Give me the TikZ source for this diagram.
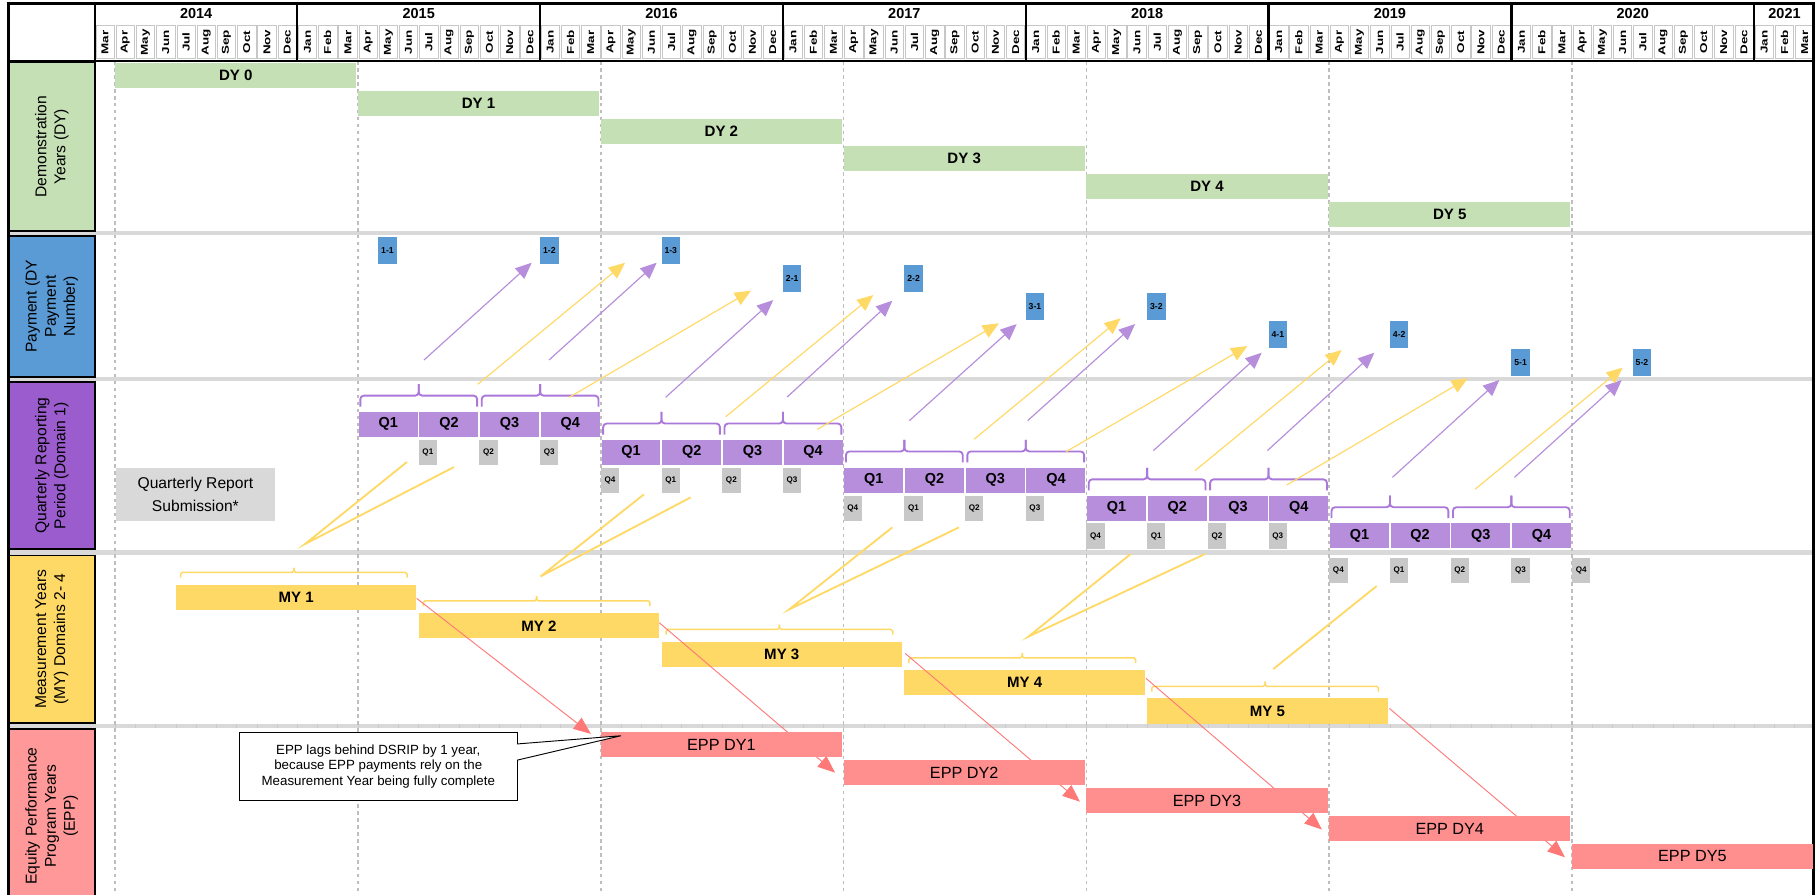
\documentclass[tikz,border=0pt]{standalone}
\usepackage{fontspec}
\usepackage{graphicx}
\setmainfont{Liberation Sans}
\usetikzlibrary{arrows.meta,calc}
\definecolor{dygreen}{RGB}{197,224,180}
\definecolor{payblue}{RGB}{91,155,213}
\definecolor{qpurple}{RGB}{155,92,205}
\definecolor{qbar}{RGB}{182,142,220}
\definecolor{qline}{RGB}{170,120,218}
\definecolor{myyellow}{RGB}{255,217,102}
\definecolor{eppink}{RGB}{255,153,153}
\definecolor{eppbar}{RGB}{255,143,143}
\definecolor{eparrow}{RGB}{255,120,120}
\definecolor{sepgray}{RGB}{217,217,217}
\definecolor{gridgray}{RGB}{190,190,190}
\definecolor{rptgray}{RGB}{200,200,200}
\newcommand\mymonth[1]{\ifcase#1 Jan\or Feb\or Mar\or Apr\or May\or Jun\or Jul\or Aug\or Sep\or Oct\or Nov\or Dec\fi}
\pgfmathdeclarefunction{mx}{1}{\pgfmathparse{47.1+17.48*#1}}
\begin{document}
\begin{tikzpicture}[x=1pt,y=-1pt,
  every node/.style={inner sep=0pt,outer sep=0pt},
  barnode/.style={anchor=north west,minimum height=21.6pt,font=\fontsize{13}{13}\selectfont\bfseries},
  dybar/.style={barnode,fill=dygreen},
  qbarn/.style={barnode,fill=qbar,font=\fontsize{12.5}{12.5}\selectfont\bfseries},
  mybar/.style={barnode,fill=myyellow,minimum height=22pt},
  eppbarn/.style={barnode,fill=eppbar,font=\fontsize{14}{14}\selectfont},
  paybox/.style={anchor=north west,fill=payblue,minimum width=16pt,minimum height=23pt,font=\fontsize{7.5}{7.5}\selectfont\bfseries},
  rptbox/.style={anchor=north west,fill=rptgray,minimum width=15.8pt,minimum height=22pt,font=\fontsize{7}{7}\selectfont\bfseries},
  lbl/.style={draw=black,line width=1.5pt,rotate=90,align=center,minimum height=74.5pt,font=\fontsize{13.5}{16.5}\selectfont},
  qbrace/.style={draw=qline,line width=1.6pt,rounded corners=3pt},
  mybrace/.style={draw=myyellow,line width=1.3pt,rounded corners=1.5pt},
  parrow/.style={draw=qbar,line width=1pt,-{Triangle[length=14pt,width=12pt]}},
  yarrow/.style={draw=myyellow,line width=1pt,-{Triangle[length=14pt,width=12pt]}},
  vline/.style={draw=myyellow,line width=1.6pt},
  rarrow/.style={draw=eparrow,line width=0.8pt,-{Triangle[length=15pt,width=12pt]}},
  gridln/.style={draw=gridgray,line width=1.3pt,dash pattern=on 3pt off 3pt},
  sepln/.style={draw=sepgray,line width=3.5pt}]
\useasboundingbox (0,0) rectangle (1568,773);
\fill[white] (0,0) rectangle (1568,773);
% separators
\foreach \yy in {201.6,327.4,477.3,627.5} \draw[sepln] (7,\yy) -- (1566,\yy);
\foreach \m in {3,...,86} \draw[draw=black!20,line width=0.6pt] ({mx(\m)},625.8) -- ({mx(\m)},629.2);
% grid lines
\foreach \m in {3,15,27,39,51,63,75} \draw[gridln] ({mx(\m)},53) -- ({mx(\m)},773);
% header months
\foreach \m in {2,...,86} {
  \pgfmathsetmacro\xa{mx(\m)}
  \pgfmathsetmacro\xb{mx(\m+1)}
  \pgfmathtruncatemacro\mm{mod(\m,12)}
  \draw[draw=black!22,line width=0.6pt] (\xa+0.8,21.5) rectangle (\xb-0.8,50.5);
  \node[rotate=90,font=\fontsize{8.6}{8.6}\selectfont\bfseries] (mon\m) at ({(\xa+\xb)/2},36.5) {\scalebox{1.35}[1]{\mymonth{\mm}}};
}
\foreach \yr [count=\i from 0] in {2014,...,2021} {
  \pgfmathsetmacro\xa{mx(max(2,12*\i))}
  \pgfmathsetmacro\xb{mx(min(87,12*\i+12))}
  \node[font=\fontsize{12.5}{12.5}\selectfont\bfseries] (yr\yr) at ({(\xa+\xb)/2},12) {\yr};
}
\draw[line width=2pt] (82,3) -- (82,52);
\foreach \m in {12,24,...,84} \draw[line width=2pt] ({mx(\m)},3) -- ({mx(\m)},52);
\draw[line width=3pt] (5.7,3) -- (1567.7,3);
\draw[line width=2pt] (7,52.5) -- (1566,52.5);
\draw[line width=2.5pt] (7,2) -- (7,775);
\draw[line width=2.5pt] (1566.5,2) -- (1566.5,775);
% row labels
\node[lbl,fill=dygreen,minimum width=145.5pt] (lDY) at (44.75,126.75) {Demonstration\\Years (DY)};
\node[lbl,fill=payblue,minimum width=121.5pt] (lPay) at (44.75,264.75) {Payment (DY\\Payment\\Number)};
\node[lbl,fill=qpurple,minimum width=144.5pt] (lQ) at (44.75,402.25) {Quarterly Reporting\\Period (Domain 1)};
\node[lbl,fill=myyellow,minimum width=144.5pt] (lMY) at (44.75,552.25) {Measurement Years\\(MY) Domains 2- 4};
\node[lbl,fill=eppink,minimum width=150pt] (lEPP) at (44.75,705) {Equity Performance\\Program Years\\(EPP)};
% DY bars
\foreach \k in {0,...,5} {
  \pgfmathsetmacro\xa{mx(3+12*\k)}
  \pgfmathsetmacro\w{mx(15+12*\k)-1.5-\xa}
  \pgfmathsetmacro\yt{54.7+23.9*\k}
  \node[dybar,minimum width=\w pt] (dy\k) at (\xa,\yt) {DY \k};
}
% payment boxes
\foreach \m/\r/\t [count=\i] in {16/0/1-1,24/0/1-2,30/0/1-3,36/1/2-1,42/1/2-2,48/2/3-1,54/2/3-2,60/3/4-1,66/3/4-2,72/4/5-1,78/4/5-2} {
  \pgfmathsetmacro\yt{204.8+24.2*\r}
  \node[paybox] (pay\i) at ({mx(\m)},\yt) {\t};
}
% quarter bars
\foreach \k in {0,...,4} {
  \pgfmathsetmacro\yt{355.8+24.1*\k}
  \foreach \q in {0,...,3} {
    \pgfmathsetmacro\xa{mx(15+12*\k+3*\q)+0.6}
    \pgfmathsetmacro\w{mx(18+12*\k+3*\q)-0.9-\xa}
    \pgfmathtruncatemacro\qq{\q+1}
    \node[qbarn,minimum width=\w pt] (q\k-\qq) at (\xa,\yt) {Q\qq};
  }
  \foreach \h in {0,1} {
    \pgfmathsetmacro\xa{mx(15+12*\k+6*\h)+2}
    \pgfmathsetmacro\xb{mx(21+12*\k+6*\h)-2}
    \pgfmathsetmacro\xm{mx(18+12*\k+6*\h)}
    \draw[qbrace] (\xa,\yt-4.5) -- (\xa,\yt-14) -- (\xm,\yt-14) -- (\xm,\yt-24);
    \draw[qbrace] (\xb,\yt-4.5) -- (\xb,\yt-14) -- (\xm,\yt-14) -- (\xm,\yt-24);
  }
}
% report boxes
\foreach \m/\r/\lab [count=\i] in {18/1/Q1,21/1/Q2,24/1/Q3,27/2/Q4,30/2/Q1,33/2/Q2,36/2/Q3,39/3/Q4,42/3/Q1,45/3/Q2,48/3/Q3,51/4/Q4,54/4/Q1,57/4/Q2,60/4/Q3,63/5/Q4,66/5/Q1,69/5/Q2,72/5/Q3,75/5/Q4} {
  \pgfmathsetmacro\yt{\r<5 ? 355.8+24.1*\r : 481.8}
  \node[rptbox] (rpt\i) at ({mx(\m)},\yt) {\lab};
}
\node[fill=sepgray,anchor=north west,minimum width=137.6pt,minimum height=45.8pt,align=center,font=\fontsize{13.5}{20}\selectfont] (qrs) at (100,404) {Quarterly Report\\Submission*};
% MY bars
\foreach \k in {0,...,4} {
  \pgfmathsetmacro\xa{mx(6+12*\k)}
  \pgfmathsetmacro\w{mx(18+12*\k)-2-\xa}
  \pgfmathsetmacro\yt{505+24.6*\k}
  \pgfmathtruncatemacro\kk{\k+1}
  \node[mybar,minimum width=\w pt] (my\kk) at (\xa,\yt) {MY \kk};
  \pgfmathsetmacro\xa{mx(6+12*\k)+4}
  \pgfmathsetmacro\xb{mx(18+12*\k)-10}
  \pgfmathsetmacro\xm{(\xa+\xb)/2}
  \draw[mybrace] (\xa,\yt-6) -- (\xa,\yt-10.5) -- (\xm,\yt-10.5) -- (\xm,\yt-14.5);
  \draw[mybrace] (\xb,\yt-6) -- (\xb,\yt-10.5) -- (\xm,\yt-10.5) -- (\xm,\yt-14.5);
}
% purple arrows
\foreach \sx/\sy/\tx/\ty [count=\i] in {366.3/311/459.3/227,474.3/311/567.3/227,575.1/343.2/668/259.2,680/343/770.9/259.8,785.6/363.4/878.3/280,887.8/363.4/980.6/280,996.4/389.3/1090/304.7,1094.9/389.3/1187.3/304.7,1202.9/412.4/1295.3/328.3,1308.3/412.4/1401/328.3} {
  \coordinate (ps\i) at (\sx,\sy);
  \coordinate (pt\i) at (\tx,\ty);
  \draw[parrow] (ps\i) -- (pt\i);
}
% yellow arrows
\foreach \sx/\sy/\tx/\ty [count=\i] in {412.7/332/540/227,491.8/343.2/648.8/251.1,627/360/754.5/254.9,706/371/863/279.3,841.5/379.5/968.2/275,921/390.2/1077.6/299,1032.4/406.6/1159.1/302.4,1111.6/419/1268/326.8,1274.3/422.7/1401.9/317.6} {
  \coordinate (ys\i) at (\sx,\sy);
  \coordinate (yt\i) at (\tx,\ty);
  \draw[yarrow] (ys\i) -- (yt\i);
}
% yellow V lines
\foreach \ax/\ay/\vx/\vy/\bx/\by [count=\i] in {351.6/399.1/263.5/470/392.2/403.5,556.4/427/467/498/596.7/429.7,770.9/455.6/681.9/526.4/828.5/455.6,976.8/478.6/888.4/550/1041/478.6} {
  \coordinate (va\i) at (\ax,\ay);
  \coordinate (vv\i) at (\vx,\vy);
  \coordinate (vb\i) at (\bx,\by);
  \draw[vline] (va\i) -- (vv\i) -- (vb\i);
}
\coordinate (va5) at (1189.3,506.3);
\coordinate (vv5) at (1100,578);
\draw[vline] (va5) -- (vv5);
% red arrows
\foreach \sx/\sy/\tx/\ty [count=\i] in {360/517/510.5/634,569.6/538/721.4/667.5,781.9/564.4/933/692.6,990/586/1142/716.6,1200.3/612/1352/740.6} {
  \coordinate (rs\i) at (\sx,\sy);
  \coordinate (rt\i) at (\tx,\ty);
  \draw[rarrow] (rs\i) -- (rt\i);
}
% EPP bars
\foreach \k in {0,...,4} {
  \pgfmathsetmacro\xa{mx(27+12*\k)}
  \pgfmathsetmacro\w{min(mx(39+12*\k)-1.5,1566)-\xa}
  \pgfmathsetmacro\yt{632.7+24.1*\k}
  \pgfmathtruncatemacro\kk{\k+1}
  \node[eppbarn,minimum width=\w pt] (epp\kk) at (\xa,\yt) {EPP DY\kk};
}
% callout
\node[draw=black,line width=0.8pt,fill=white,anchor=north west,minimum width=240pt,minimum height=59pt,align=center,font=\fontsize{11.5}{13}\selectfont] (note) at (206.8,632.7) {EPP lags behind DSRIP by 1 year,\\because EPP payments rely on the\\Measurement Year being fully complete};
\coordinate (cpt) at (536.5,635.6);
\fill[white] ($(note.north east)+(-0.5,10)$) -- (cpt) -- ($(note.north east)+(-0.5,24)$) -- cycle;
\draw[white,line width=1.3pt] ($(note.north east)+(0,11)$) -- ($(note.north east)+(0,23)$);
\draw[line width=0.8pt] ($(note.north east)+(0,10)$) -- (cpt) -- ($(note.north east)+(0,24)$);
\end{tikzpicture}
\end{document}
